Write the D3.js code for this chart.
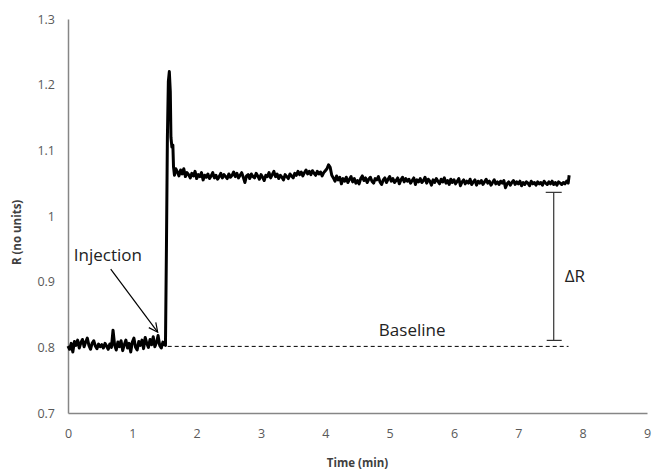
<!DOCTYPE html>
<html>
<head>
<meta charset="utf-8">
<script src="https://cdn.jsdelivr.net/npm/d3@7"></script>
<style>
  body { margin: 0; background: #fff; }
  text { font-family: "Open Sans", sans-serif; }
</style>
</head>
<body>
<div id="chart-area"></div>
<script>
// time (min) and response R
var times = [
  // before injection
  0.000, 0.025, 0.050, 0.075, 0.100, 0.125, 0.150, 0.175,
  0.200, 0.225, 0.250, 0.275, 0.300, 0.325, 0.350, 0.375,
  0.400, 0.425, 0.450, 0.475, 0.500, 0.525, 0.550, 0.575,
  0.600, 0.625, 0.650, 0.675, 0.700, 0.725, 0.750, 0.775,
  0.800, 0.825, 0.850, 0.875, 0.900, 0.925, 0.950, 0.975,
  1.000, 1.025, 1.050, 1.075, 1.100, 1.125, 1.150, 1.175,
  1.200, 1.225, 1.250, 1.275, 1.300, 1.325, 1.350, 1.375,
  1.400, 1.425, 1.450, 1.475, 1.500,
  // injection spike
  1.515, 1.530, 1.545, 1.560, 1.575, 1.590, 1.600, 1.615, 1.630, 1.640, 1.655, 1.675,
  // plateau
  1.700, 1.725, 1.750, 1.775, 1.800, 1.825, 1.850, 1.875,
  1.900, 1.925, 1.950, 1.975, 2.000, 2.025, 2.050, 2.075,
  2.100, 2.125, 2.150, 2.175, 2.200, 2.225, 2.250, 2.275,
  2.300, 2.325, 2.350, 2.375, 2.400, 2.425, 2.450, 2.475,
  2.500, 2.525, 2.550, 2.575, 2.600, 2.625, 2.650, 2.675,
  2.700, 2.725, 2.750, 2.775, 2.800, 2.825, 2.850, 2.875,
  2.900, 2.925, 2.950, 2.975, 3.000, 3.025, 3.050, 3.075,
  3.100, 3.125, 3.150, 3.175, 3.200, 3.225, 3.250, 3.275,
  3.300, 3.325, 3.350, 3.375, 3.400, 3.425, 3.450, 3.475,
  3.500, 3.525, 3.550, 3.575, 3.600, 3.625, 3.650, 3.675,
  3.700, 3.725, 3.750, 3.775, 3.800, 3.825, 3.850, 3.875,
  3.900, 3.925, 3.950, 3.975, 4.000, 4.025, 4.050, 4.075,
  4.100, 4.125, 4.150, 4.175, 4.200, 4.225, 4.250, 4.275,
  4.300, 4.325, 4.350, 4.375, 4.400, 4.425, 4.450, 4.475,
  4.500, 4.525, 4.550, 4.575, 4.600, 4.625, 4.650, 4.675,
  4.700, 4.725, 4.750, 4.775, 4.800, 4.825, 4.850, 4.875,
  4.900, 4.925, 4.950, 4.975, 5.000, 5.025, 5.050, 5.075,
  5.100, 5.125, 5.150, 5.175, 5.200, 5.225, 5.250, 5.275,
  5.300, 5.325, 5.350, 5.375, 5.400, 5.425, 5.450, 5.475,
  5.500, 5.525, 5.550, 5.575, 5.600, 5.625, 5.650, 5.675,
  5.700, 5.725, 5.750, 5.775, 5.800, 5.825, 5.850, 5.875,
  5.900, 5.925, 5.950, 5.975, 6.000, 6.025, 6.050, 6.075,
  6.100, 6.125, 6.150, 6.175, 6.200, 6.225, 6.250, 6.275,
  6.300, 6.325, 6.350, 6.375, 6.400, 6.425, 6.450, 6.475,
  6.500, 6.525, 6.550, 6.575, 6.600, 6.625, 6.650, 6.675,
  6.700, 6.725, 6.750, 6.775, 6.800, 6.825, 6.850, 6.875,
  6.900, 6.925, 6.950, 6.975, 7.000, 7.025, 7.050, 7.075,
  7.100, 7.125, 7.150, 7.175, 7.200, 7.225, 7.250, 7.275,
  7.300, 7.325, 7.350, 7.375, 7.400, 7.425, 7.450, 7.475,
  7.500, 7.525, 7.550, 7.575, 7.600, 7.625, 7.650, 7.675,
  7.700, 7.725, 7.750, 7.775, 7.790
];

var rValues = [
  // before injection
  0.802, 0.797, 0.806, 0.793, 0.809, 0.803, 0.811, 0.799,
  0.807, 0.812, 0.801, 0.808, 0.814, 0.803, 0.797, 0.806,
  0.810, 0.802, 0.798, 0.805, 0.801, 0.804, 0.799, 0.806,
  0.802, 0.797, 0.805, 0.800, 0.826, 0.803, 0.796, 0.808,
  0.801, 0.810, 0.795, 0.804, 0.811, 0.799, 0.806, 0.793,
  0.808, 0.814, 0.800, 0.796, 0.809, 0.803, 0.811, 0.798,
  0.815, 0.806, 0.800, 0.812, 0.804, 0.816, 0.801, 0.807,
  0.818, 0.803, 0.799, 0.808, 0.804,
  // injection spike
  0.803, 0.950, 1.120, 1.205, 1.220, 1.190, 1.120, 1.105, 1.108, 1.075, 1.062, 1.072,
  // plateau
  1.067, 1.061, 1.070, 1.064, 1.072, 1.060, 1.066, 1.063,
  1.058, 1.065, 1.061, 1.068, 1.057, 1.063, 1.060, 1.066,
  1.055, 1.062, 1.059, 1.064, 1.057, 1.061, 1.066, 1.058,
  1.062, 1.056, 1.060, 1.065, 1.058, 1.063, 1.060, 1.057,
  1.064, 1.059, 1.062, 1.067, 1.060, 1.065, 1.058, 1.062,
  1.066, 1.059, 1.051, 1.061, 1.063, 1.057, 1.064, 1.060,
  1.058, 1.065, 1.061, 1.056, 1.063, 1.059, 1.054, 1.062,
  1.060, 1.066, 1.058, 1.063, 1.068, 1.060, 1.064, 1.057,
  1.062, 1.059, 1.055, 1.063, 1.060, 1.057, 1.064, 1.061,
  1.058, 1.065, 1.062, 1.068, 1.063, 1.067, 1.061, 1.066,
  1.070, 1.064, 1.068, 1.063, 1.069, 1.065, 1.062, 1.068,
  1.064, 1.067, 1.061, 1.066, 1.069, 1.072, 1.078, 1.074,
  1.062, 1.058, 1.053, 1.061, 1.055, 1.059, 1.049, 1.057,
  1.053, 1.059, 1.051, 1.056, 1.060, 1.052, 1.057, 1.050,
  1.054, 1.049, 1.057, 1.061, 1.054, 1.058, 1.051, 1.056,
  1.059, 1.053, 1.050, 1.057, 1.055, 1.060, 1.052, 1.048,
  1.055, 1.058, 1.051, 1.056, 1.060, 1.053, 1.057, 1.051,
  1.054, 1.058, 1.049, 1.055, 1.059, 1.052, 1.057, 1.053,
  1.056, 1.050, 1.054, 1.058, 1.048, 1.055, 1.052, 1.057,
  1.051, 1.054, 1.059, 1.050, 1.056, 1.053, 1.047, 1.055,
  1.051, 1.057, 1.053, 1.049, 1.056, 1.052, 1.058, 1.050,
  1.054, 1.048, 1.056, 1.051, 1.055, 1.049, 1.053, 1.057,
  1.046, 1.052, 1.055, 1.049, 1.053, 1.050, 1.056, 1.048,
  1.052, 1.055, 1.047, 1.053, 1.050, 1.054, 1.048, 1.052,
  1.056, 1.050, 1.053, 1.047, 1.051, 1.055, 1.049, 1.052,
  1.048, 1.053, 1.050, 1.054, 1.043, 1.049, 1.052, 1.047,
  1.051, 1.054, 1.048, 1.052, 1.049, 1.053, 1.046, 1.051,
  1.048, 1.052, 1.050, 1.046, 1.053, 1.049, 1.051, 1.047,
  1.052, 1.049, 1.051, 1.047, 1.053, 1.050, 1.048, 1.052,
  1.049, 1.053, 1.048, 1.051, 1.047, 1.052, 1.050, 1.048,
  1.051, 1.049, 1.053, 1.050, 1.062
];

var xTicks = [0, 1, 2, 3, 4, 5, 6, 7, 8, 9];
var yTicks = [0.7, 0.8, 0.9, 1.0, 1.1, 1.2, 1.3];

var baselineR = 0.806;
var baselineSpan = [1.55, 7.78];
var deltaTop = 1.036;
var deltaT = 7.55;

var data = times.map((t, i) => ({ t: t, r: rValues[i] }));

var svg = d3.select("#chart-area")
  .append("svg")
  .attr("width", 655)
  .attr("height", 474);

var x = d3.scaleLinear().domain([0, 9]).range([68, 647]);
var y = d3.scaleLinear().domain([0.7, 1.3]).range([413, 19]);

var axisColor = "#868686";
var labelColor = "#595959";

// axes
svg.append("g")
  .attr("transform", "translate(0," + y(0.7) + ")")
  .call(d3.axisBottom(x).tickValues(xTicks).tickSize(0).tickPadding(16).tickFormat(d3.format("d")));
svg.append("g")
  .attr("transform", "translate(" + x(0) + ",0)")
  .call(d3.axisLeft(y).tickValues(yTicks).tickSize(0).tickPadding(13).tickFormat(d => d === 1 ? "1" : d3.format(".1f")(d)));

svg.selectAll(".domain").attr("stroke", axisColor).attr("stroke-width", 1.5);
svg.selectAll(".tick text")
  .attr("fill", labelColor)
  .style("font-family", "'Open Sans', sans-serif")
  .style("font-size", "12.5px");

// axis titles
svg.append("text")
  .attr("x", (x(0) + x(9)) / 2)
  .attr("y", 467)
  .attr("text-anchor", "middle")
  .attr("font-size", "11.5px")
  .attr("font-weight", "bold")
  .attr("fill", "#404040")
  .text("Time (min)");

svg.append("text")
  .attr("transform", "translate(21," + y(0.975) + ") rotate(-90)")
  .attr("text-anchor", "middle")
  .attr("font-size", "11.5px")
  .attr("font-weight", "bold")
  .attr("fill", "#404040")
  .text("R (no units)");

// baseline dashed line
svg.append("line")
  .attr("x1", x(baselineSpan[0]))
  .attr("x2", x(baselineSpan[1]))
  .attr("y1", y(baselineR) + 3)
  .attr("y2", y(baselineR) + 3)
  .attr("stroke", "#000")
  .attr("stroke-width", 1)
  .attr("stroke-dasharray", "4,3");

// trace
var line = d3.line().x(d => x(d.t)).y(d => y(d.r));
svg.append("path")
  .datum(data)
  .attr("fill", "none")
  .attr("stroke", "#000")
  .attr("stroke-width", 3)
  .attr("stroke-linejoin", "round")
  .attr("d", line);

// delta R bracket
var bx = x(deltaT);
var g = svg.append("g").attr("stroke", "#333").attr("stroke-width", 1.2);
g.append("line").attr("x1", bx).attr("x2", bx).attr("y1", y(deltaTop)).attr("y2", y(baselineR) - 3);
g.append("line").attr("x1", bx - 8).attr("x2", bx + 8).attr("y1", y(deltaTop)).attr("y2", y(deltaTop));
g.append("line").attr("x1", bx - 7).attr("x2", bx + 8).attr("y1", y(baselineR) - 3).attr("y2", y(baselineR) - 3);

svg.append("text")
  .attr("x", bx + 11)
  .attr("y", y(0.9))
  .attr("font-size", "17px")
  .attr("fill", "#222")
  .text("\u0394R");

svg.append("text")
  .attr("x", x(5.35))
  .attr("y", y(0.817))
  .attr("text-anchor", "middle")
  .attr("font-size", "17px")
  .attr("fill", "#222")
  .text("Baseline");

// injection arrow
svg.append("text")
  .attr("x", x(0.09))
  .attr("y", y(0.931))
  .attr("font-size", "17px")
  .attr("fill", "#222")
  .text("Injection");

var ax1 = x(0.664), ay1 = y(0.919), ax2 = x(1.394), ay2 = y(0.823);
var ang = Math.atan2(ay2 - ay1, ax2 - ax1);
var head = 10, spread = 0.45;
var ag = svg.append("g").attr("stroke", "#000").attr("stroke-width", 1.2).attr("fill", "none");
ag.append("line").attr("x1", ax1).attr("y1", ay1).attr("x2", ax2).attr("y2", ay2);
ag.append("path").attr("d",
  "M" + (ax2 - head * Math.cos(ang - spread)) + "," + (ay2 - head * Math.sin(ang - spread)) +
  "L" + ax2 + "," + ay2 +
  "L" + (ax2 - head * Math.cos(ang + spread)) + "," + (ay2 - head * Math.sin(ang + spread)));
</script>
</body>
</html>
